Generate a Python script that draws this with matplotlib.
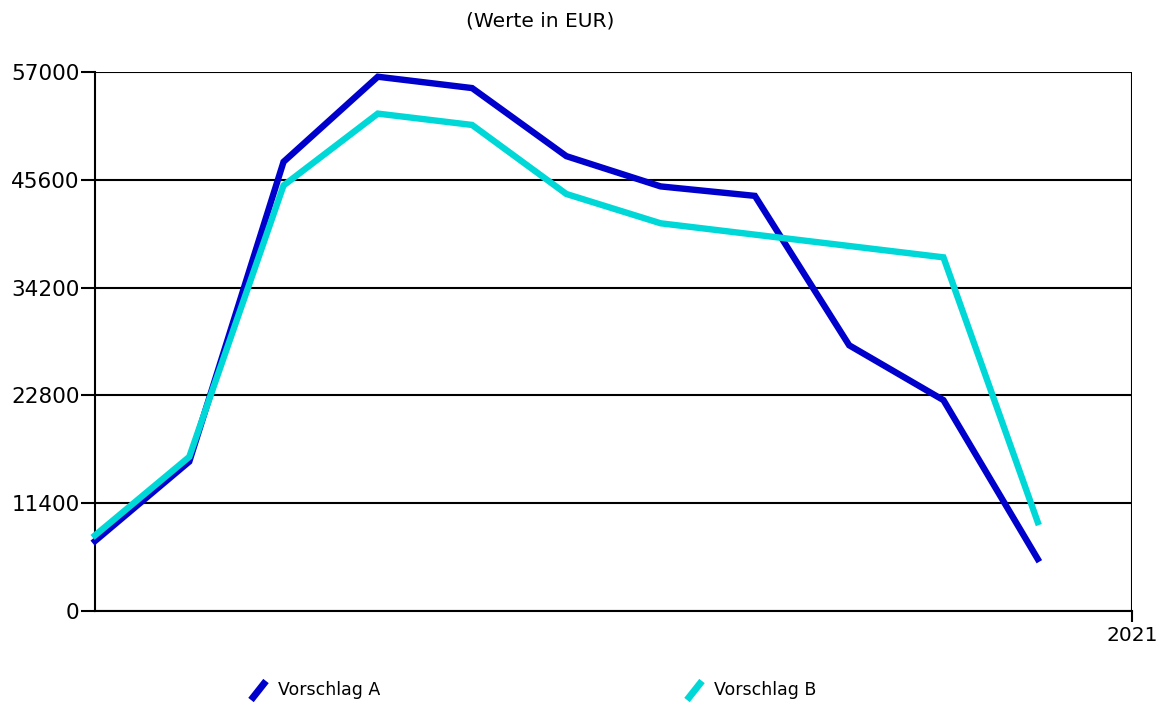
import matplotlib
matplotlib.use("Agg")
import matplotlib.pyplot as plt
from matplotlib.lines import Line2D

# Data
x_index = list(range(11))
vorschlag_a = [7400, 15800, 47500, 56500, 55300, 48100, 44900, 43900, 28100, 22300, 5500]
vorschlag_b = [8000, 16300, 45000, 52600, 51400, 44100, 41000, 39800, 38600, 37400, 9400]
y_ticks = [0, 11400, 22800, 34200, 45600, 57000]
x_tick_pos = [11]
x_tick_labels = ["2021"]
series_names = ["Vorschlag A", "Vorschlag B"]
title_text = "(Werte in EUR)"

col_a = "#0000CC"
col_b = "#00D8D8"

plt.rcParams['font.family'] = ['DejaVu Sans']

fig = plt.figure(figsize=(11.66, 7.06), dpi=100)
ax = fig.add_axes([95/1166, 1-611/706, (1132-95)/1166, (611-72)/706])

ax.plot(x_index, vorschlag_a, color=col_a, lw=4.6, solid_joinstyle='miter', zorder=3, clip_on=False)
ax.plot(x_index, vorschlag_b, color=col_b, lw=4.6, solid_joinstyle='miter', zorder=4, clip_on=False)

ax.set_xlim(0, 11)
ax.set_ylim(0, 57000)
ax.set_yticks(y_ticks)
ax.set_yticklabels([str(v) for v in y_ticks], fontsize=15.5)
ax.set_xticks(x_tick_pos)
ax.set_xticklabels(x_tick_labels, fontsize=14.5)

ax.grid(True, axis='y', color='black', lw=1.5, zorder=1)
ax.grid(True, axis='x', color='black', lw=1.5, zorder=1)
ax.tick_params(axis='y', length=10, width=1.5, pad=1, color='black')
ax.tick_params(axis='x', length=8, width=1.5, pad=3, color='black')

for s in ['top', 'right']:
    ax.spines[s].set_visible(False)
for s in ['left', 'bottom']:
    ax.spines[s].set_linewidth(1.5)

fig.text(540/1166, 1-21/706, title_text, ha='center', va='center', fontsize=14.5)

# Legend with diagonal slash handles
legend_items = [(251, 266, series_names[0], col_a), (687, 702, series_names[1], col_b)]
for x0, x1, name, col in legend_items:
    fig.add_artist(Line2D([x0/1166, x1/1166], [1-700/706, 1-681/706],
                          transform=fig.transFigure, color=col, lw=5,
                          solid_capstyle='butt'))
    fig.text((x1+12)/1166, 1-690/706, name, ha='left', va='center', fontsize=12.5)

fig.savefig("out.png", dpi=100)
